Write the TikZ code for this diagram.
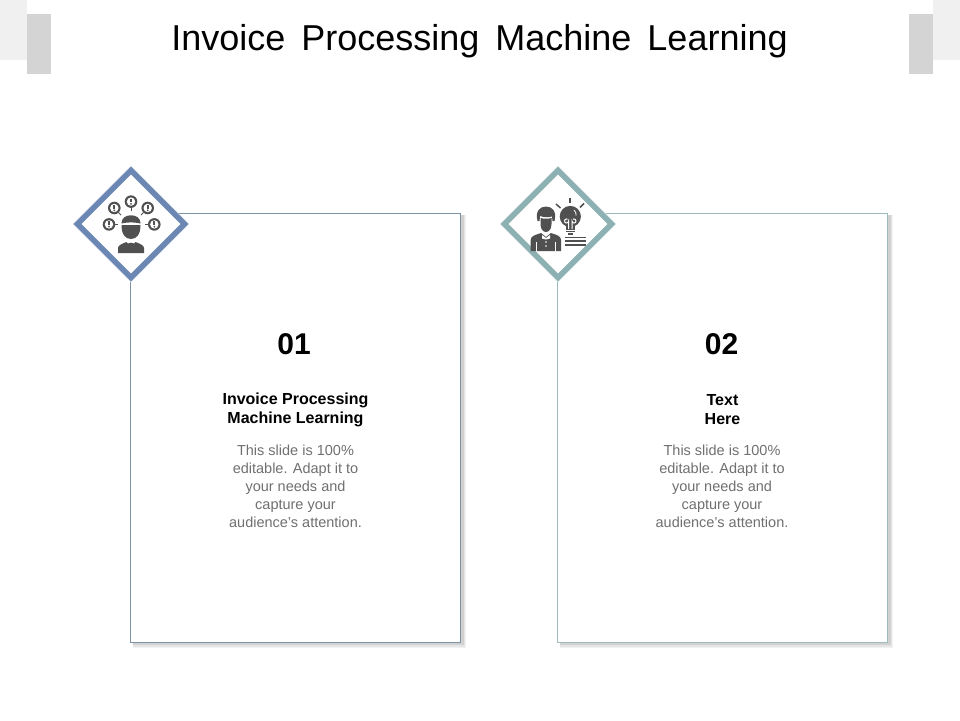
\documentclass[tikz,border=0pt]{standalone}
\usepackage{fontspec}
\setmainfont{Liberation Sans}
\definecolor{dk}{HTML}{505050}
\definecolor{blueD}{HTML}{6C87B3}
\definecolor{tealD}{HTML}{8DB0B3}
\definecolor{cardA}{HTML}{7D93A3}
\definecolor{cardB}{HTML}{9DBBBD}
\definecolor{bodyT}{HTML}{707070}
\tikzset{
  cornerlight/.style={fill=black!6,draw=none},
  cornerbar/.style={fill=black!17,draw=none},
  cardbox/.style={draw=#1,line width=0.9pt,fill=white,minimum width=330pt,minimum height=429pt,inner sep=0pt},
  diamondbox/.style={draw=#1,line width=5.4pt,fill=white,miter limit=10,line join=miter},
  numtext/.style={font=\fontsize{30}{32}\selectfont\bfseries,text=black,inner sep=0pt},
  headtext/.style={font=\fontsize{16}{19}\selectfont\bfseries,text=black,align=center,inner sep=0pt},
  bodytext/.style={font=\fontsize{14.5}{18}\selectfont,text=bodyT,align=center,inner sep=0pt},
  icon/.style={fill=dk,draw=none},
  iconline/.style={draw=dk,line width=1.5pt},
}
\newcommand{\alertbubble}[2]{%
  \fill[dk] (#1,#2) circle (6.3);
  \fill[white] (#1,#2) circle (4.2);
  \fill[dk] (#1-1.1,#2-3) rectangle (#1+1.1,#2+0.8);
  \fill[dk] (#1,#2+2.3) circle (1);
}
\newcommand{\cardshadow}[4]{%
  \fill[black!5] (#1+2,#2+2) rectangle (#3+5.5,#4+5.5);
  \fill[black!10] (#1+2,#2+2) rectangle (#3+4.5,#4+4.5);
  \fill[black!18] (#1+2,#2+2) rectangle (#3+3,#4+3);
}
\begin{document}
\begin{tikzpicture}[x=1pt,y=-1pt]
\useasboundingbox (0,0) rectangle (960,720);
% corner decoration
\fill[cornerlight] (0,0) rectangle (27,60);
\fill[cornerlight] (933,0) rectangle (960,60);
\fill[cornerbar] (27,14) rectangle (51,74);
\fill[cornerbar] (909,14) rectangle (933,74);
% title
\node[inner sep=0pt,font=\fontsize{36}{40}\selectfont,text=black] (title) at (479.5,41) {Invoice\, Processing\, Machine\, Learning};
% cards
\cardshadow{130.5}{213}{460.5}{642}
\cardshadow{557.5}{213}{887.5}{642}
\node[cardbox=cardA] (card1) at (295.5,427.5) {};
\node[cardbox=cardB] (card2) at (722.5,427.5) {};
% diamonds
\draw[blueD!25,line width=7pt,line join=miter] (131,170.5) -- (184.5,224) -- (131,277.5) -- (77.5,224) -- cycle;
\draw[diamondbox=blueD] (131,170.5) -- (184.5,224) -- (131,277.5) -- (77.5,224) -- cycle;
\draw[tealD!25,line width=7pt,line join=miter] (558,170.5) -- (611.5,224) -- (558,277.5) -- (504.5,224) -- cycle;
\draw[diamondbox=tealD] (558,170.5) -- (611.5,224) -- (558,277.5) -- (504.5,224) -- cycle;
% icon 1
\alertbubble{114.3}{208}
\alertbubble{131}{201.6}
\alertbubble{147.7}{208}
\alertbubble{109}{224.4}
\alertbubble{154.3}{224.4}
\draw[iconline,line width=1pt] (131,207) -- (131,211);
\draw[iconline,line width=1pt] (118.5,212.5) -- (121,215);
\draw[iconline,line width=1pt] (143.5,212.5) -- (141,215);
\draw[iconline,line width=1pt] (115,224.4) -- (118,224.4);
\draw[iconline,line width=1pt] (148.3,224.4) -- (145,224.4);
\fill[icon] (121.5,225) .. controls (121.5,234) and (125,239) .. (131,239) .. controls (137,239) and (140.5,234) .. (140.5,225) -- cycle;
\fill[icon] (121.5,223.5) .. controls (121,212.5) and (141,212.5) .. (140.5,223.5) .. controls (134,222) and (128,222) .. (121.5,223.5) -- cycle;
\fill[icon] (118,253) -- (118,248) .. controls (118,245) and (123,243.5) .. (126.5,242) -- (128,243.5) -- (131,242.7) -- (134,243.5) -- (135.5,242) .. controls (139,243.5) and (144,245) .. (144,248) -- (144,253) -- cycle;
% icon 2: person
\fill[icon] (537.5,221) .. controls (535,211) and (540,206.5) .. (546,206.5) .. controls (552,206.5) and (557,211) .. (554.5,221) -- (552.5,221) -- (552,216.5) .. controls (548,217.5) and (544,217.5) .. (540,216) -- (539.5,221) -- cycle;
\fill[icon] (540.5,218) .. controls (544,219) and (548,219) .. (551.5,218) -- (551.5,224) .. controls (551.5,229) and (549,232) .. (546,232) .. controls (543,232) and (540.5,229) .. (540.5,224) -- cycle;
\fill[icon] (530.7,251) -- (530.7,240) .. controls (530.7,236) and (535,235) .. (541,233) -- (546,237) -- (551,233) .. controls (557,235) and (561,236) .. (561,240) -- (561,251) -- cycle;
\fill[white] (536,242) rectangle (536.9,251);
\fill[white] (555,242) rectangle (555.9,251);
\fill[white] (542,235) -- (546,238) -- (550,235) -- (550,238.5) -- (546,239.5) -- (542,238.5) -- cycle;
\fill[white] (546,242) circle (0.8);
\fill[white] (546,246) circle (0.8);
% icon 2: bulb
\fill[icon] (570.3,216.5) circle (10.6);
\fill[icon] (565.5,224) rectangle (575,230);
\fill[icon] (566,230.7) rectangle (574.5,232.4);
\fill[icon] (567.5,233) rectangle (573,234.5);
\draw[white,line width=1pt] (568.5,229) -- (568.5,221) arc (0:300:2) (572,229) -- (572,221) arc (180:-120:2);
\draw[white,line width=0.8pt] (574,210) arc (-50:10:6);
\draw[iconline] (570,197.5) -- (570,203);
\draw[iconline] (556,204) -- (560.5,208);
\draw[iconline] (584,203.5) -- (580,207.5);
\draw[iconline] (564.7,237.3) -- (585.7,237.3);
\draw[iconline] (564.7,241) -- (585.7,241);
\draw[iconline] (564.7,245) -- (585.7,245);
% text
\node[numtext] (num1) at (294,344) {01};
\node[numtext] (num2) at (721.5,344) {02};
\node[headtext] (head1) at (295.5,409.5) {Invoice Processing\\Machine Learning};
\node[headtext] (head2) at (722.5,409.5) {Text\\Here};
\node[bodytext] (body1) at (295.5,486) {This slide is 100\%\\editable. Adapt it to\\your needs and\\capture your\\audience's attention.};
\node[bodytext] (body2) at (722,486) {This slide is 100\%\\editable. Adapt it to\\your needs and\\capture your\\audience's attention.};
\end{tikzpicture}
\end{document}
